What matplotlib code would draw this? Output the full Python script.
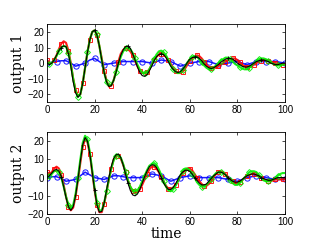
import numpy as np
import matplotlib
matplotlib.use("Agg")
import matplotlib.pyplot as plt

plt.rcParams['font.family'] = ['Liberation Sans', 'DejaVu Sans']

# time axis, 1 unit step (lines), 2 unit step (blue)
t = np.arange(0, 101)
t2 = np.arange(0, 101, 2)

# ---- output 1 ----
true1 = [0, -1, 0, 2, 5, 8, 10, 11, 10.5, 6, -2, -12, -19, -22, -20, -13, -3, 7, 15, 20,
         21, 18, 11, 2, -6, -12, -15, -14.5, -11, -6, 0, 5, 8.5, 10.5, 11, 9.5, 6, 2, -2.5, -6,
         -8, -8.5, -7.5, -5, -2, 1.5, 4, 5.5, 6, 5.5, 3.5, 1, -2, -4, -5.5, -6, -5.5, -4, -2, 0.5,
         2.5, 3.5, 4, 4, 3, 1.5, -0.5, -2, -3, -3.5, -3, -2, -1, 0.5, 1.5, 2.5, 3, 3, 2.5, 1.5,
         0, -1, -2, -2.5, -2.5, -2, -1, 0, 1, 1.5, 2, 2, 1.5, 1, 0, -0.5, -1, -1, -0.5, 0, 0]
red1 = [2, 0, 0, 2, 5, 9, 12.5, 14, 13, 8, 0, -10, -17, -21, -20, -13, -3, 7, 15, 20,
        21, 18, 11, 3, -5, -11, -15, -14.5, -11, -5, 1, 6, 8.5, 9.5, 9, 7.5, 5, 1.5, -2, -5,
        -6, -6.5, -6, -4, -1, 2, 4, 5.5, 6, 5.5, 4, 2, -0.5, -3, -5, -6, -6.5, -5.5, -3.5, -1,
        1.5, 3, 4, 5, 4.5, 3, 1, -1, -2.5, -3, -3, -3, -2, -1, 0, 1, 2, 2.5, 3, 3,
        2, 0.5, -1, -2, -2.5, -2.5, -2, -1, 0, 1, 1.5, 2, 2, 1.5, 1, 0.5, 0, -0.5, -1, -1, -1]
green1 = [0, -0.5, 0, 2, 4.5, 7.5, 10, 11, 10.5, 6.5, -1, -10, -18, -21.5, -20, -13, -3, 7, 15, 20,
          21, 18.5, 11, 2, -6, -12, -14.5, -14, -11, -6, -1, 4, 7.5, 9.5, 10, 9, 6.5, 3, -1, -4,
          -6, -6.5, -6, -4, -1, 2.5, 5.5, 7.5, 8, 7, 5, 2, -1.5, -4, -5.5, -6.5, -6, -4.5, -2, 0.5,
          2.5, 4, 4.5, 4, 2.5, 0.5, -1.5, -3, -4, -4, -3, -1.5, 0, 1.5, 2.5, 3.5, 3.5, 2.5, 1, -0.5,
          -1.5, -2.5, -3.5, -4, -4, -3, -1.5, 0, 1.5, 2.5, 3, 3, 2.5, 1.5, 0.5, -0.5, -1, -1.5, -1.5, -1, -1]
blue1 = [0, 0.5, 1, 1.5, 1.5, 0, -2, -1, 0, 2, 3, 1, -1, -0.5, 0, 0.5, 1, 1, 1, 1,
         1, 0.5, 0, 1, 2, 1.5, 1, -0.5, -2, -1, 0, 0.5, 1, 1, 1, 0, -1, -0.5, 0, 0.5,
         1, 0, -1, 0, 1, 1, 1, 1, 1, 0.5, 0]

# ---- output 2 ----
true2 = [0, 1, 2.5, 4, 4.5, 3.5, 0.5, -5, -11, -16, -18, -16, -10, -1, 9, 18, 22, 20, 13, 3,
         -7, -15, -19, -18.5, -14, -7, 0, 6, 10.5, 12.5, 13, 11, 7, 2, -3, -7, -9.5, -10, -9, -6.5,
         -3, 0.5, 3.5, 6, 7, 7, 5.5, 3, 0, -3, -5, -6.5, -6.5, -5.5, -3.5, -1, 1.5, 3, 4, 4,
         3.5, 2, 0, -1.5, -3, -4, -4, -3.5, -2, -0.5, 1, 2, 3, 3, 2.5, 1.5, 0, -1, -2, -2.5,
         -2.5, -2, -1, 0, 1, 1.5, 2, 2, 1.5, 1, 0, -0.5, -1, -1.5, -1.5, -1, -0.5, 0, 0, 0, 0]
red2 = [3, 2, 3, 5, 6, 5, 1.5, -4, -10.5, -16, -18, -16.5, -10.5, -1.5, 8, 17, 21, 19.5, 13, 3,
        -7, -15, -19, -19, -14.5, -8, -1, 5, 10, 12, 12, 10.5, 7, 3, -1.5, -5, -7.5, -8, -8, -6.5,
        -4, -1, 2, 4.5, 6, 6, 5, 3, 0.5, -2, -4.5, -6, -6, -5.5, -4, -2, 0.5, 2.5, 4, 5,
        5, 4, 2, 0, -2, -3.5, -4.5, -4.5, -3.5, -2, 0, 2, 3, 3.5, 3, 2, 0.5, -1, -2, -3,
        -3, -2.5, -1.5, 0, 1, 1.5, 2, 2, 1.5, 1, 0, -1, -1.5, -2, -2, -1.5, -1, -1, -1, -1, -1]
green2 = [0, 1, 2, 3.5, 4, 3, 0, -5, -10.5, -15, -17, -15, -9, 0, 10, 19, 23, 21, 14, 4,
          -6, -14, -18, -18, -14, -7.5, -1, 5, 9.5, 12, 12.5, 11, 7.5, 3, -1.5, -5, -7, -7.5, -7, -5,
          -2, 1, 4, 6.5, 7.5, 8, 7, 4.5, 1.5, -2, -5, -7, -7.5, -6.5, -4.5, -2, 1, 3.5, 5, 5,
          4, 2, 0, -2.5, -4, -5, -5, -4, -2.5, -0.5, 1, 2.5, 3, 3, 2.5, 1.5, 0, -1.5, -3, -4,
          -4, -3, -1.5, 0, 1.5, 3, 3.5, 3.5, 3, 1.5, 0, -1.5, -2, -2, -1.5, -1, 0, 1, 2, 2.5, 2.5]
blue2 = [0, 0.5, 0.5, -0.5, -2, -1.5, -1, 1, 3, 1.5, 0, -0.5, -1, 0, 1, 1, 0.5, 0, 0, 0,
         0, 1, 2, 1.5, 1, -0.5, -2, -1, 0, 0.5, 1, 0.5, 0, 0, 0, 0, 0, -0.5, -1, -1.5,
         -2, -1, 0, 0.5, 1, 0.5, 0, -0.5, -1, -1, -1]

panels = [
    (true1, red1, green1, blue1, "output 1", (-25, 25), [-20, -10, 0, 10, 20]),
    (true2, red2, green2, blue2, "output 2", (-20, 25), [-20, -10, 0, 10, 20]),
]
positions = [[0.146, 0.585, 0.739, 0.317], [0.146, 0.130, 0.739, 0.333]]

fig = plt.figure(figsize=(3.22, 2.46), dpi=100)

for (tr, rd, gr, bl, lab, ylim, yt), pos in zip(panels, positions):
    ax = fig.add_axes(pos)
    ax.plot(t2, bl, color="#0000ff", lw=1.1, marker="o", ms=3.8, mfc="none",
            mew=0.7, markevery=2, alpha=0.9)
    ax.plot(t, rd, color="#ff0000", lw=1.5, marker="s", ms=3.5, mfc="none",
            mew=0.7, markevery=3, alpha=0.9)
    ax.plot(t, gr, color="#00ee00", lw=1.5, marker="D", ms=3, mfc="none",
            mew=0.7, markevery=(1, 4), alpha=0.9)
    ax.plot(t, tr, color="black", lw=0.8, marker="+", ms=3, mew=0.6, markevery=(6, 14))
    ax.set_xlim(0, 100)
    ax.set_ylim(*ylim)
    ax.set_yticks(yt)
    ax.set_xticks([0, 20, 40, 60, 80, 100])
    ax.tick_params(direction="in", top=True, right=True, length=2.5, width=0.5,
                   labelsize=7, pad=2)
    for s in ax.spines.values():
        s.set_linewidth(0.6)
    ax.set_ylabel(lab, family="DejaVu Serif", fontsize=10, labelpad=2)

ax.set_xlabel("time", family="DejaVu Serif", fontsize=10, labelpad=0)

fig.savefig("out.png", dpi=100)
